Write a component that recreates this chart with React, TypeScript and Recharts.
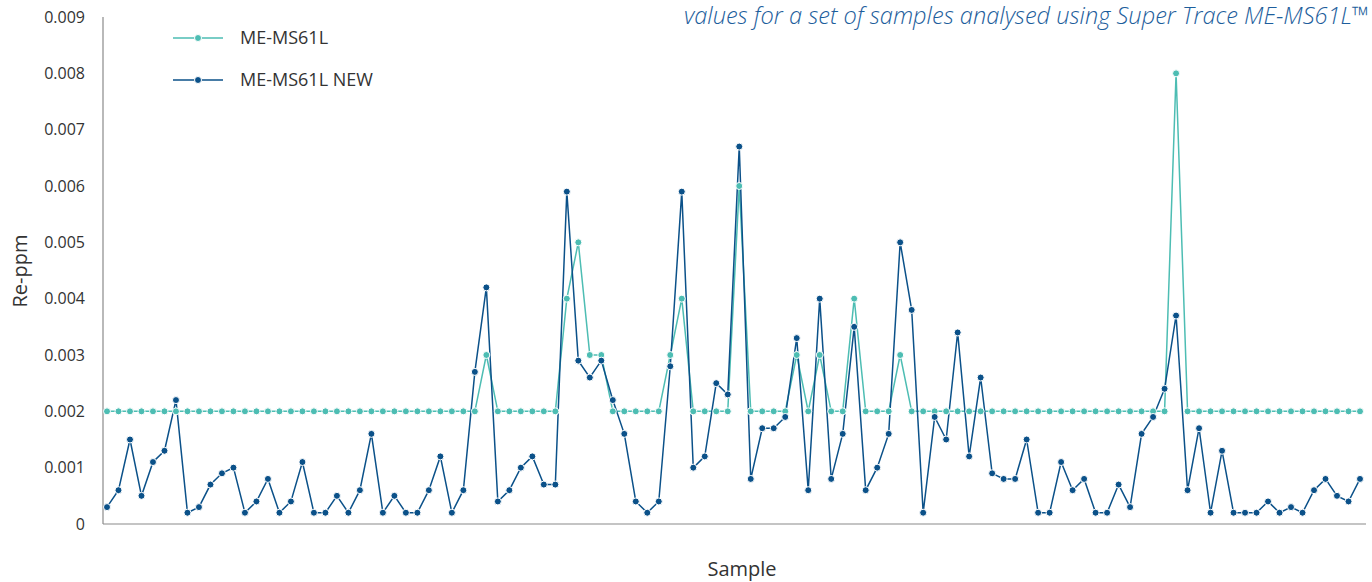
import React from 'react';
import { LineChart, Line, XAxis, YAxis } from 'recharts';

const sampleCount = 110;
const samples: string[] = Array.from({ length: sampleCount }, (_, i) => `S${i + 1}`);

const me61Values: number[] = [
  0.002, 0.002, 0.002, 0.002, 0.002, 0.002, 0.002, 0.002, 0.002, 0.002,
  0.002, 0.002, 0.002, 0.002, 0.002, 0.002, 0.002, 0.002, 0.002, 0.002,
  0.002, 0.002, 0.002, 0.002, 0.002, 0.002, 0.002, 0.002, 0.002, 0.002,
  0.002, 0.002, 0.002, 0.003, 0.002, 0.002, 0.002, 0.002, 0.002, 0.002,
  0.004, 0.005, 0.003, 0.003, 0.002, 0.002, 0.002, 0.002, 0.002, 0.003,
  0.004, 0.002, 0.002, 0.002, 0.002, 0.006, 0.002, 0.002, 0.002, 0.002,
  0.003, 0.002, 0.003, 0.002, 0.002, 0.004, 0.002, 0.002, 0.002, 0.003,
  0.002, 0.002, 0.002, 0.002, 0.002, 0.002, 0.002, 0.002, 0.002, 0.002,
  0.002, 0.002, 0.002, 0.002, 0.002, 0.002, 0.002, 0.002, 0.002, 0.002,
  0.002, 0.002, 0.002, 0.008, 0.002, 0.002, 0.002, 0.002, 0.002, 0.002,
  0.002, 0.002, 0.002, 0.002, 0.002, 0.002, 0.002, 0.002, 0.002, 0.002,
];

const me61NewValues: number[] = [
  0.0003, 0.0006, 0.0015, 0.0005, 0.0011, 0.0013, 0.0022, 0.0002, 0.0003, 0.0007,
  0.0009, 0.001, 0.0002, 0.0004, 0.0008, 0.0002, 0.0004, 0.0011, 0.0002, 0.0002,
  0.0005, 0.0002, 0.0006, 0.0016, 0.0002, 0.0005, 0.0002, 0.0002, 0.0006, 0.0012,
  0.0002, 0.0006, 0.0027, 0.0042, 0.0004, 0.0006, 0.001, 0.0012, 0.0007, 0.0007,
  0.0059, 0.0029, 0.0026, 0.0029, 0.0022, 0.0016, 0.0004, 0.0002, 0.0004, 0.0028,
  0.0059, 0.001, 0.0012, 0.0025, 0.0023, 0.0067, 0.0008, 0.0017, 0.0017, 0.0019,
  0.0033, 0.0006, 0.004, 0.0008, 0.0016, 0.0035, 0.0006, 0.001, 0.0016, 0.005,
  0.0038, 0.0002, 0.0019, 0.0015, 0.0034, 0.0012, 0.0026, 0.0009, 0.0008, 0.0008,
  0.0015, 0.0002, 0.0002, 0.0011, 0.0006, 0.0008, 0.0002, 0.0002, 0.0007, 0.0003,
  0.0016, 0.0019, 0.0024, 0.0037, 0.0006, 0.0017, 0.0002, 0.0013, 0.0002, 0.0002,
  0.0002, 0.0004, 0.0002, 0.0003, 0.0002, 0.0006, 0.0008, 0.0005, 0.0004, 0.0008,
];

const yTicks: number[] = [0, 0.001, 0.002, 0.003, 0.004, 0.005, 0.006, 0.007, 0.008, 0.009];

const seriesNames = ['ME-MS61L', 'ME-MS61L NEW'];
const TEAL = '#4dbdb3';
const NAVY = '#0b5189';
const FONT = '"Open Sans", "Noto Sans", sans-serif';

const data = samples.map((s, i) => ({ sample: s, old: me61Values[i], neu: me61NewValues[i] }));

export default function App() {
  const legendItems = [
    { name: seriesNames[0], color: TEAL },
    { name: seriesNames[1], color: NAVY },
  ];
  return (
    <div style={{ position: 'absolute', left: 0, top: 0, width: 1372, height: 582, background: '#fff', overflow: 'hidden' }}>
      <LineChart
        width={1372}
        height={582}
        data={data}
        margin={{ top: 17, right: 6, bottom: 28, left: 8 }}
      >
        <XAxis
          dataKey="sample"
          tick={false}
          tickLine={false}
          axisLine={{ stroke: '#8a8a8a', strokeWidth: 1.2 }}
          padding={{ left: 4, right: 6 }}
          height={30}
        />
        <YAxis
          domain={[0, 0.009]}
          ticks={yTicks}
          interval={0}
          width={95}
          tickLine={false}
          tickMargin={12}
          axisLine={{ stroke: '#8a8a8a', strokeWidth: 1.2 }}
          tick={{ fontSize: 16, fill: '#333', fontFamily: FONT }}
          tickFormatter={(v: number) => (v === 0 ? '0' : v.toFixed(3))}
        />
        <Line
          type="linear"
          dataKey="old"
          name={seriesNames[0]}
          stroke={TEAL}
          strokeWidth={1.5}
          dot={{ r: 3.5, fill: TEAL, stroke: '#fff', strokeWidth: 1 }}
          activeDot={false}
          isAnimationActive={false}
        />
        <Line
          type="linear"
          dataKey="neu"
          name={seriesNames[1]}
          stroke={NAVY}
          strokeWidth={1.5}
          dot={{ r: 3.5, fill: NAVY, stroke: '#fff', strokeWidth: 1 }}
          activeDot={false}
          isAnimationActive={false}
        />
      </LineChart>
      <svg width={1372} height={582} style={{ position: 'absolute', left: 0, top: 0, pointerEvents: 'none' }}>
        {legendItems.map((it, i) => (
          <g key={it.name} transform={`translate(173, ${38 + i * 42})`}>
            <line x1={0} x2={50} y1={0} y2={0} stroke={it.color} strokeWidth={1.6} />
            <circle cx={25} cy={0} r={3.5} fill={it.color} stroke="#fff" strokeWidth={1} />
            <text x={67} y={6} fontSize={18} fill="#333" fontFamily={FONT}>{it.name}</text>
          </g>
        ))}
        <text
          x={684}
          y={24}
          fontSize={24}
          fontStyle="italic"
          fontWeight={300}
          fill="#1d5e9c"
          fontFamily={FONT}
          textLength={685}
          lengthAdjust="spacingAndGlyphs"
        >
          values for a set of samples analysed using Super Trace ME-MS61L™
        </text>
        <text x={742} y={576} fontSize={20} fill="#333" textAnchor="middle" fontFamily={FONT}>
          Sample
        </text>
        <text
          x={27}
          y={271}
          fontSize={20}
          fill="#333"
          textAnchor="middle"
          fontFamily={FONT}
          transform="rotate(-90 27 271)"
        >
          Re-ppm
        </text>
      </svg>
    </div>
  );
}
